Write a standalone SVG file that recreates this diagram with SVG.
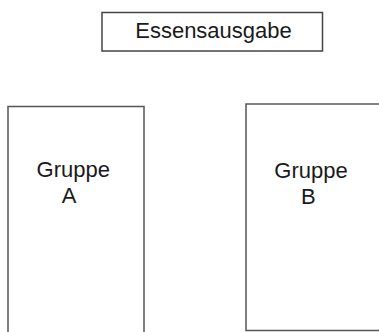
<svg xmlns="http://www.w3.org/2000/svg" width="379" height="332" viewBox="0 0 379 332">
<style>
.box{fill:#ffffff;stroke:#555555;stroke-width:1.5}
.lbl{font-family:"Liberation Sans",Arial,sans-serif;font-size:22px;fill:#1a1a1a}
</style>
<rect width="379" height="332" fill="#ffffff"/>
<g id="essensausgabe">
<rect class="box" x="102" y="12.5" width="220.5" height="38.5" style="stroke:#444444"/>
<text class="lbl" x="213.5" y="38" text-anchor="middle">Essensausgabe</text>
</g>
<g id="gruppe-a">
<rect class="box" x="8" y="106.5" width="136" height="240"/>
<text class="lbl" x="73.3" y="177" text-anchor="middle">Gruppe</text>
<text class="lbl" x="69" y="203" text-anchor="middle">A</text>
</g>
<g id="gruppe-b">
<rect class="box" x="246" y="104" width="150" height="226.5"/>
<text class="lbl" x="311" y="177.5" text-anchor="middle">Gruppe</text>
<text class="lbl" x="308.3" y="204" text-anchor="middle">B</text>
</g>
<g id="connectors"/>
</svg>
